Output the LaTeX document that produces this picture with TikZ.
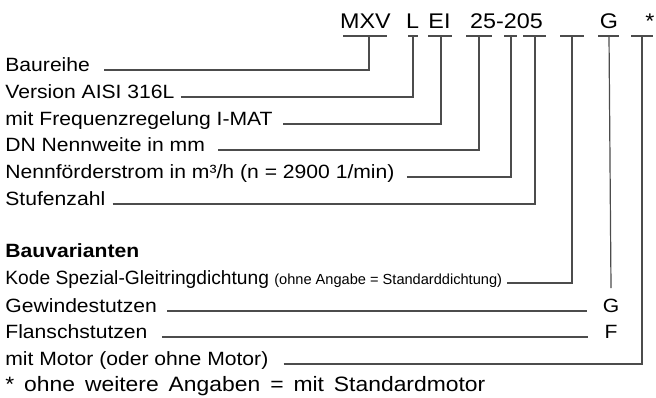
\documentclass[tikz,border=0pt]{standalone}
\usepackage{fontspec}
\setmainfont[FakeStretch=1.1]{Liberation Sans}
\newfontfamily\kodefont{Liberation Sans}
\usetikzlibrary{positioning,calc}

\tikzset{
  lbl/.style={anchor=base west, inner sep=0pt, font=\fontsize{9.6}{11}\selectfont},
  code/.style={anchor=base, inner sep=0pt, font=\fontsize{10.6}{12}\selectfont},
  lead/.style={draw=black!70, line width=0.6pt},
}

\begin{document}
\begin{tikzpicture}[x=0.5pt, y=-0.5pt]
\useasboundingbox (0,0) rectangle (656,397);
% type code
\node[code] (mxv) at (365.5,28) {MXV};
\node[code] (ver) at (412.5,28) {L};
\node[code] (ei) at (439.5,28) {EI};
\node[code] (dn) at (506.5,28) {25-205};
\node[code] (g) at (609,28) {G};
\node[code] (star) at (650,28) {*};
\foreach \a/\b in {343/387,408/418,428/452,466/492,504/517,523/546,560/584,598/619,631/653} {
  \draw[lead] (\a,36) -- (\b,36);
}
\foreach \n/\x in {bau/369,ver/413,fu/441,dn/479,q/511,st/535,gl/572,an/609,mo/642} {
  \coordinate (t\n) at (\x,36);
}
% rows
\foreach \n/\y/\g/\t in {bau/70/14/Baureihe,ver/97/6/{Version AISI 316L},fu/124/10/{mit Frequenzregelung I-MAT},dn/150/13/{DN Nennweite in mm},q/177/12/{Nennförderstrom in m³/h (n = 2900 1/min)},st/204/7/Stufenzahl,mo/364/15/{mit Motor (oder ohne Motor)}} {
  \node[lbl] (l\n) at (5,\y+1) {\t};
  \draw[lead] ($(l\n.base east)+(\g,-1)$) -| (t\n);
}
\node[lbl, font=\fontsize{9.6}{11}\selectfont\bfseries] (bv) at (5,257) {Bauvarianten};
\node[lbl, font=\fontsize{9.6}{11}\kodefont] (lgl) at (5,284) {Kode Spezial-Gleitringdichtung {\fontsize{7.3}{8}\selectfont(ohne Angabe = Standarddichtung)}};
\draw[lead] ($(lgl.base east)+(5,-1)$) -| (tgl);
\node[lbl] (lge) at (5,312) {Gewindestutzen};
\node[lbl] (lfl) at (5,338) {Flanschstutzen};
\node[lbl, anchor=base] (gG) at (611,312) {G};
\node[lbl, anchor=base] (gF) at (611,338) {F};
\draw[lead] ($(lge.base east)+(10,-1)$) -- ($(gG.base west)+(-15,-1)$);
\draw[lead] ($(lfl.base east)+(14,-1)$) -- ($(gF.base west)+(-16,-1)$);
\draw[lead] (tan) -- ($(gG.north)+(0,-10)$);
\node[lbl, font=\fontsize{10.4}{12}\selectfont] (fn) at (5,391) {\hbox to 240pt{* ohne weitere Angaben = mit Standardmotor}};
\end{tikzpicture}
\end{document}
